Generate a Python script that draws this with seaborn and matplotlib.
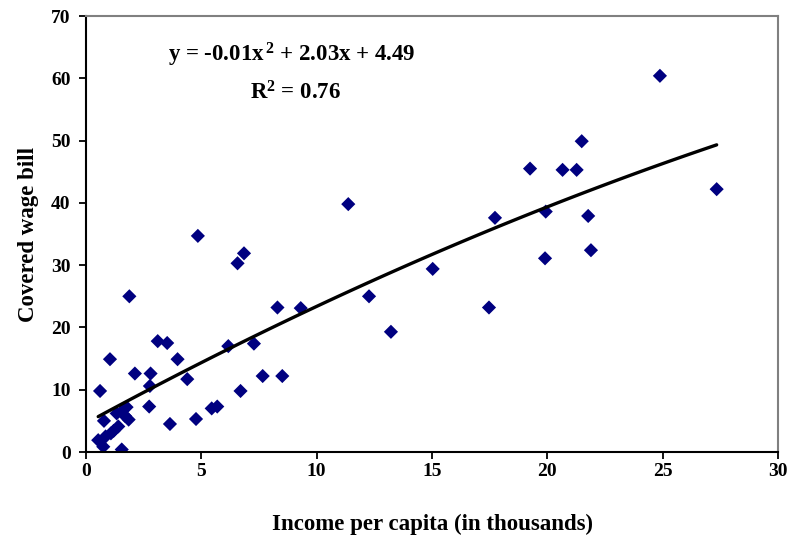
import matplotlib
matplotlib.use("Agg")
import matplotlib.pyplot as plt
import seaborn as sns
import pandas as pd

# Income per capita (thousands) and covered wage bill for each country
income = [
    24.88, 21.49, 19.25, 20.66, 21.27, 27.34, 17.73, 19.93, 21.77, 19.90,
    21.89, 17.47, 11.37, 15.03, 12.27, 8.30, 9.31, 13.22, 7.28, 7.66,
    8.51, 6.57, 6.85, 4.85, 1.88, 3.11, 3.52, 3.97, 1.04, 2.12,
    2.80, 4.39, 6.17, 2.77, 0.61, 6.70, 2.74, 5.45, 5.69, 4.77,
    3.64, 1.55, 0.78, 1.33, 1.55, 1.69, 1.76, 1.85, 1.40, 1.08,
    0.85, 0.53, 0.75, 1.20,
]
wage_bill = [
    60.4, 49.9, 45.5, 45.3, 45.3, 42.2, 37.6, 38.6, 37.9, 31.1,
    32.4, 23.2, 39.8, 29.4, 25.0, 23.2, 23.1, 19.3, 17.4, 12.2,
    12.2, 30.3, 31.9, 34.7, 25.0, 17.8, 17.5, 14.9, 14.9, 12.6,
    12.6, 11.7, 17.0, 10.6, 9.8, 9.8, 7.3, 7.0, 7.3, 5.3,
    4.5, 0.4, 5.0, 6.2, 6.5, 5.8, 7.2, 5.2, 4.1, 3.0,
    2.5, 1.9, 0.85, 3.4,
]
x_ticks = [0, 5, 10, 15, 20, 25, 30]
y_ticks = [0, 10, 20, 30, 40, 50, 60, 70]
equation = "y = -0.01x$^{\\,2}$ + 2.03x + 4.49"
r_squared = "R$^{2}$ = 0.76"

df = pd.DataFrame({"income": income, "wage_bill": wage_bill})

sns.set_theme(style="white")
plt.rcParams["font.family"] = ["Liberation Serif", "DejaVu Serif"]
plt.rcParams["mathtext.fontset"] = "custom"
plt.rcParams["mathtext.rm"] = "Liberation Serif:bold"
plt.rcParams["mathtext.it"] = "Liberation Serif:bold"
plt.rcParams["mathtext.bf"] = "Liberation Serif:bold"
plt.rcParams["text.color"] = "black"
plt.rcParams["axes.labelcolor"] = "black"
plt.rcParams["xtick.color"] = "black"
plt.rcParams["ytick.color"] = "black"

fig = plt.figure(figsize=(7.91, 5.36), dpi=100)
ax = fig.add_axes([0.1087, 0.1567, 0.8749, 0.8134])

sns.regplot(
    data=df, x="income", y="wage_bill", order=2, ci=None, ax=ax,
    marker="D",
    scatter_kws={"s": 52, "color": "#000080", "alpha": 1.0,
                 "edgecolors": "none", "zorder": 2},
    line_kws={"color": "black", "linewidth": 2.4, "zorder": 3},
)

ax.set_xlim(0, 30)
ax.set_ylim(0, 70)
ax.set_xticks(x_ticks)
ax.set_yticks(y_ticks)
ax.set_xticklabels([str(t) for t in x_ticks])
ax.set_yticklabels([str(t) for t in y_ticks])
ax.tick_params(axis="both", which="major", direction="out", length=5, width=1.3,
               color="black", labelcolor="black", labelsize=14, bottom=True, left=True)
ax.tick_params(axis="x", pad=3)
ax.tick_params(axis="y", pad=6)
for lab in ax.get_xticklabels() + ax.get_yticklabels():
    lab.set_fontweight("bold")

for side in ("left", "bottom"):
    ax.spines[side].set_color("black")
    ax.spines[side].set_linewidth(1.5)
for side in ("top", "right"):
    ax.spines[side].set_color("#808080")
    ax.spines[side].set_linewidth(1.5)

ax.set_xlabel("Income per capita (in thousands)", fontsize=16.5, fontweight="bold",
              labelpad=24, color="black")
ax.set_ylabel("Covered wage bill", fontsize=16.5, fontweight="bold",
              labelpad=9, color="black")

ax.text(8.93, 63.7, equation, ha="center", va="center", fontsize=16.5,
        fontweight="bold", color="black")
ax.text(9.1, 57.6, r_squared, ha="center", va="center", fontsize=16.5,
        fontweight="bold", color="black")

fig.savefig("out.png", dpi=100, facecolor="white")
